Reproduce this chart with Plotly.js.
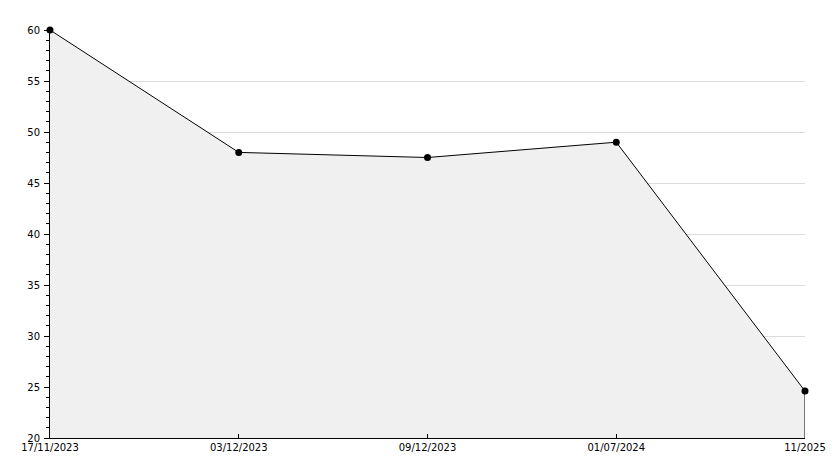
<!DOCTYPE html>
<html>
<head>
<meta charset="utf-8">
<script src="https://cdn.plot.ly/plotly-3.0.1.min.js"></script>
<style>html,body{margin:0;padding:0;background:#fff;}#chart{width:834px;height:468px;}</style>
</head>
<body>
<div id="chart"></div>
<script>
const categories = ["17/11/2023", "03/12/2023", "09/12/2023", "01/07/2024", "11/2025"];
const values = [60, 48, 47.5, 49, 24.6];
const yTickVals = [20, 25, 30, 35, 40, 45, 50, 55, 60];

const yMin = 20, yMax = 60;
const lastCat = categories[categories.length - 1];
const lastVal = values[values.length - 1];

const traces = [
  {
    x: categories,
    y: values,
    type: "scatter",
    mode: "lines+markers",
    fill: "tozeroy",
    fillcolor: "#f0f0f0",
    line: {color: "#000000", width: 1},
    marker: {color: "#000000", size: 7, symbol: "circle"},
    cliponaxis: false,
    hoverinfo: "x+y"
  },
  {
    x: [lastCat, lastCat],
    y: [lastVal, yMin],
    type: "scatter",
    mode: "lines",
    line: {color: "#000000", width: 1},
    cliponaxis: false,
    hoverinfo: "skip",
    showlegend: false
  }
];

const font = {family: "DejaVu Sans, sans-serif", size: 10, color: "#000000"};

const layout = {
  width: 834,
  height: 468,
  margin: {l: 50, r: 29, t: 30, b: 30},
  paper_bgcolor: "#ffffff",
  plot_bgcolor: "#ffffff",
  showlegend: false,
  font: font,
  xaxis: {
    type: "category",
    categoryorder: "array",
    categoryarray: categories,
    range: [0, categories.length - 1],
    showgrid: false,
    zeroline: false,
    showline: true,
    linecolor: "#000000",
    linewidth: 1,
    ticks: "inside",
    ticklen: 4,
    tickcolor: "#000000",
    tickfont: font,
    fixedrange: true
  },
  yaxis: {
    range: [yMin, yMax],
    tickvals: yTickVals,
    showgrid: true,
    gridcolor: "#dddddd",
    gridwidth: 1,
    zeroline: false,
    showline: true,
    linecolor: "#000000",
    linewidth: 1,
    ticks: "outside",
    ticklen: 5,
    tickcolor: "#000000",
    tickfont: font,
    ticklabelstandoff: 2,
    minor: {dtick: 1, ticks: "outside", ticklen: 3, tickcolor: "#000000", showgrid: false},
    fixedrange: true
  }
};

Plotly.newPlot("chart", traces, layout, {displayModeBar: false, staticPlot: true});
</script>
</body>
</html>
